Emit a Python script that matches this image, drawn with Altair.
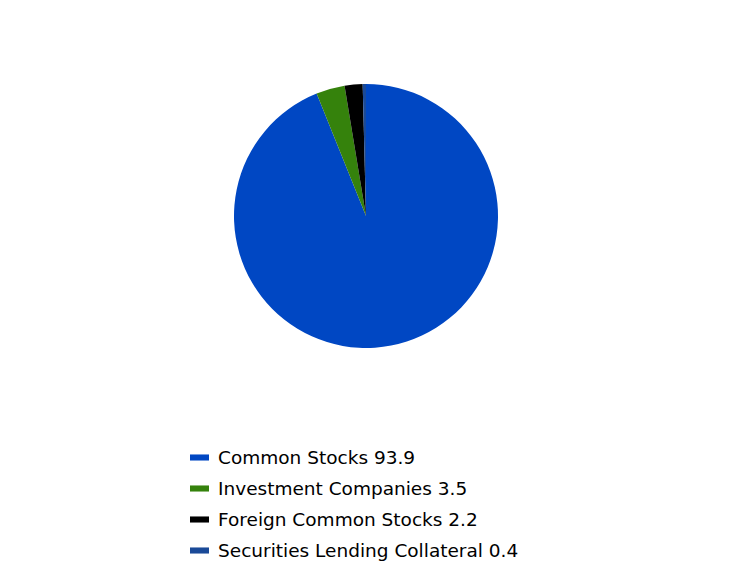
import altair as alt
import pandas as pd

categories = ["Common Stocks", "Investment Companies", "Foreign Common Stocks", "Securities Lending Collateral"]
values = [93.9, 3.5, 2.2, 0.4]
colors = ["#0047C3", "#35820C", "#000000", "#1A4A98"]

labels = [f"{c} {v}" for c, v in zip(categories, values)]
df = pd.DataFrame({"label": labels, "value": values, "order": list(range(len(values)))})

chart = alt.Chart(df).mark_arc(radius=132, stroke=None).encode(
    theta=alt.Theta("value:Q", stack=True),
    order=alt.Order("order:Q"),
    x=alt.value(358),
    y=alt.value(208),
    color=alt.Color(
        "label:N",
        sort=labels,
        scale=alt.Scale(domain=labels, range=colors),
        legend=alt.Legend(
            title=None,
            orient="none",
            legendX=182,
            legendY=440,
            symbolType="M-1,-0.32L1,-0.32L1,0.32L-1,0.32Z",
            symbolSize=361,
            symbolStrokeWidth=0,
            labelFont="DejaVu Sans",
            labelFontSize=18.5,
            labelColor="#000000",
            labelOffset=9,
            rowPadding=12,
            labelLimit=600,
        ),
    ),
).properties(
    width=716, height=570, autosize=alt.AutoSizeParams(type="none"), padding=0
).configure_view(stroke=None)

chart.save("out.html", embed_options={"renderer": "svg", "actions": False})
